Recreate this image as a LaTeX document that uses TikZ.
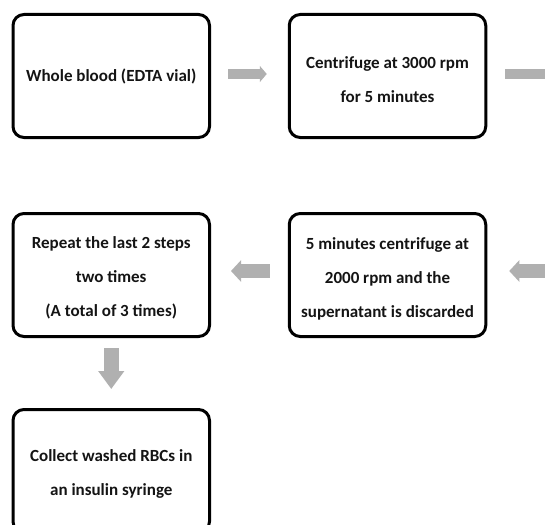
\documentclass[tikz,border=0pt]{standalone}
\usepackage{fontspec}
\setmainfont{Carlito}
\usetikzlibrary{arrows.meta,calc}
\definecolor{arrowgray}{RGB}{176,176,176}
\definecolor{textdark}{RGB}{20,20,20}
\tikzset{
  stepbox/.style={draw=black, line width=3pt, rounded corners=11pt,
    minimum width=196.5pt, minimum height=123pt, inner sep=0pt},
  steptext/.style={align=center, text=textdark,
    font=\fontsize{17}{34}\selectfont\bfseries, inner sep=0pt},
  rarrow/.style={draw=arrowgray, line width=10pt, line cap=butt,
    -{Triangle[width=16pt,length=7pt]}},
  larrow/.style={draw=arrowgray, line width=13.5pt, line cap=butt,
    -{Triangle[width=21pt,length=10pt]}},
  darrow/.style={draw=arrowgray, line width=15pt, line cap=butt,
    -{Triangle[width=25pt,length=18pt]}}
}
\begin{document}
\begin{tikzpicture}[x=1pt,y=-1pt]
\useasboundingbox (0,0) rectangle (545,524);
\fill[white] (0,0) rectangle (545,524);
\clip (0,0) rectangle (545,524);
\node[stepbox] (b1) at (111.25,76) {};
\node[stepbox] (b2) at (387.5,76) {};
\node[stepbox] (b3) at (111.25,275) {};
\node[stepbox] (b4) at (387.5,275) {};
\node[stepbox] (b5) at (111.25,471) {};
\node[steptext] (t1) at ($(b1.center)+(0,0)$) {Whole blood (EDTA vial)};
\node[steptext] (t2) at ($(b2.center)+(0,4)$) {Centrifuge at 3000 rpm\\for 5 minutes};
\node[steptext] (t3) at ($(b3.center)+(0,3)$) {Repeat the last 2 steps\\two times\\(A total of 3 times)};
\node[steptext] (t4) at ($(b4.center)+(0,4)$) {5 minutes centrifuge at\\2000 rpm and the\\supernatant is discarded};
\node[steptext] (t5) at ($(b5.center)+(0,3)$) {Collect washed RBCs in\\an insulin syringe};
\coordinate (edge1) at (553,74);
\coordinate (edge2) at (555,271);
\draw[rarrow] ($(b1.east)+(17,-2)$) -- ($(b2.west)+(-21,-2)$);
\draw[rarrow] ($(b2.east)+(18,-2)$) -- (edge1);
\draw[larrow] ($(b4.west)+(-18,-4)$) -- ($(b3.east)+(20,-4)$);
\draw[larrow] (edge2) -- ($(b4.east)+(22,-4)$);
\draw[darrow] ($(b3.south)+(0,10)$) -- ($(b5.north)+(0,-19)$);
\end{tikzpicture}
\end{document}
